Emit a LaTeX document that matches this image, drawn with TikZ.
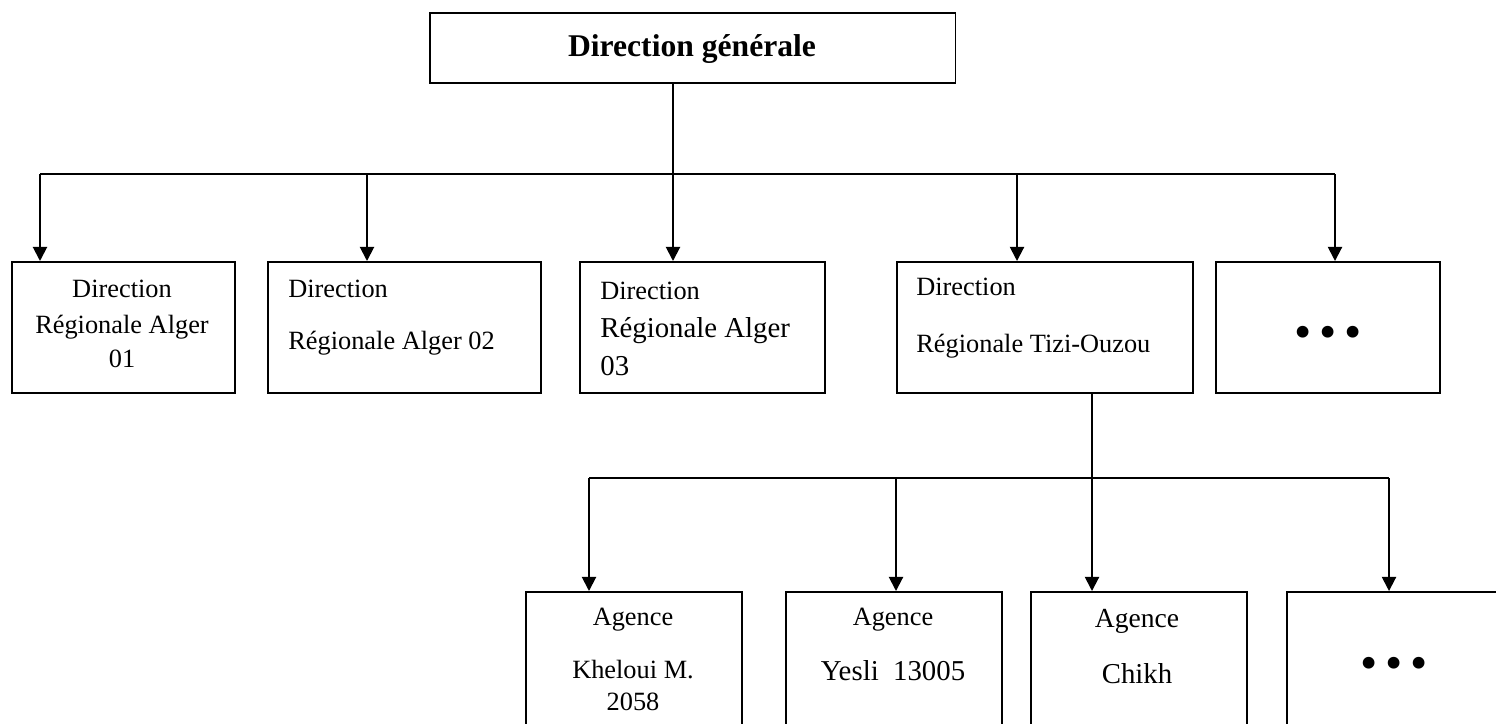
\documentclass[tikz,border=0pt]{standalone}
\usepackage{fontspec}
\setmainfont{Liberation Serif}
\usetikzlibrary{arrows.meta}

\begin{document}
\begin{tikzpicture}[x=0.02cm, y=-0.02cm,
		box/.style={draw, line width=0.9pt, anchor=north west, inner sep=0pt, minimum height=2.62cm},
		txt/.style={inner sep=0pt, anchor=base, font=\fontsize{15}{18}\selectfont},
		big/.style={font=\fontsize{16.4}{20}\selectfont},
		dots/.style={inner sep=0pt, font=\fontsize{28}{30}\selectfont},
		link/.style={line width=1.1pt},
		arr/.style={link, -{Triangle[length=8pt, width=8pt]}}]
		\useasboundingbox (0,0) rectangle (1496,723);
		\clip (0,0) rectangle (1496,723);
		
		\node[box, minimum width=10.52cm, minimum height=1.4cm] (dg) at (429,12) {};
		\node[txt, font=\fontsize{18}{22}\selectfont\bfseries] (dgt) at (692,57) {Direction générale};
		
		\foreach \n/\x/\w in {dr1/11/4.46, dr2/267/5.46, dr3/579/4.90, dr4/896/5.92, dr5/1215/4.48}
		{
			\node[box, minimum width=\w cm] (\n) at (\x,261) {};
		}
		\foreach \n/\x/\w in {ag1/525/4.32, ag2/785/4.32, ag3/1030/4.32, ag4/1286/4.88}
		{
			\node[box, minimum width=\w cm, minimum height=3.38cm] (\n) at (\x,591) {};
		}
		
		\foreach \n/\x/\y/\t in {dr1a/122/297/Direction, dr1b/122/333/Régionale Alger, dr1c/122/367/01, ag1a/633/625/Agence, ag1b/633/678/Kheloui M., ag1c/633/710/2058, ag2a/893/625/Agence}
		{
			\node[txt] (\n) at (\x,\y) {\t};
		}
		\foreach \n/\x/\y/\t in {dr2a/288/297/Direction, dr2b/288/349/Régionale Alger 02, dr3a/600/299/Direction, dr4a/916/295/Direction, dr4b/916/352/Régionale Tizi-Ouzou}
		{
			\node[txt, anchor=base west] (\n) at (\x,\y) {\t};
		}
		\node[txt, big, anchor=base west] (dr3b) at (600,337) {Régionale Alger};
		\node[txt, big, anchor=base west] (dr3c) at (600,375) {03};
		\node[txt, big] (ag2b) at (893,680) {Yesli~~13005};
		\node[txt, font=\fontsize{15.7}{19}\selectfont] (ag3a) at (1137,627) {Agence};
		\node[txt, big] (ag3b) at (1137,683) {Chikh};
		\node[dots] (dr5t) at (1328,337) {•\hspace{4.3pt}•\hspace{4.3pt}•};
		\node[dots] (ag4t) at (1394,668) {•\hspace{4.3pt}•\hspace{4.3pt}•};
		
		\foreach \i/\x in {1/40, 2/367, 3/673, 4/1017, 5/1335}
		{
			\coordinate (b\i) at (\x,174);
		}
		\foreach \i/\x in {1/589, 2/896, 3/1092, 4/1389}
		{
			\coordinate (c\i) at (\x,478);
		}
		
		\draw[link] (dg.south -| b3) -- (b3);
		\draw[link] (b1) -- (b5);
		\foreach \i in {1,...,5}
		{
			\draw[arr] (b\i) -- (b\i |- dr\i.north);
		}
		\draw[link] (dr4.south -| c3) -- (c3);
		\draw[link] (c1) -- (c4);
		\foreach \i in {1,...,4}
		{
			\draw[arr] (c\i) -- (c\i |- ag\i.north);
		}
	\end{tikzpicture}
\end{document}
